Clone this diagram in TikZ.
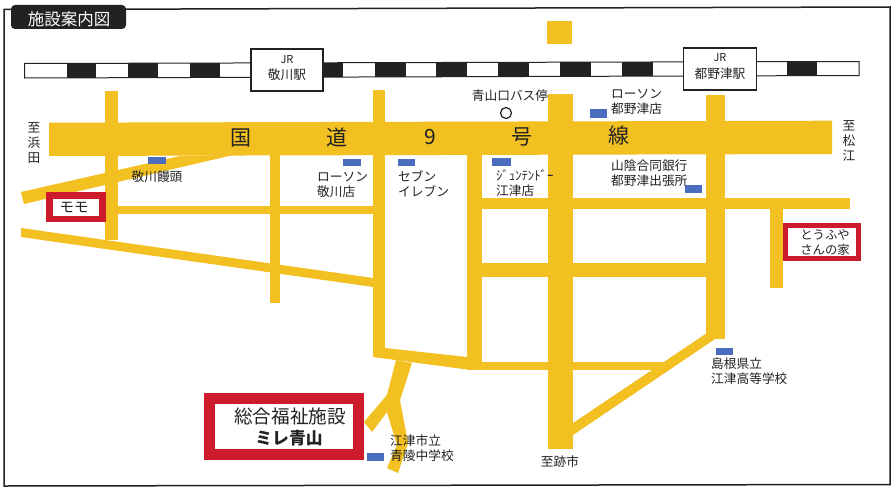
\documentclass[tikz,border=0pt]{standalone}
\usepackage{fontspec}
\setmainfont{Noto Sans CJK JP}
\definecolor{road}{HTML}{F2C020}
\definecolor{redbox}{HTML}{CE1B2B}
\definecolor{shop}{HTML}{4A6DBE}
\definecolor{inkc}{HTML}{222222}
\tikzset{
  roadfill/.style={fill=road,draw=none},
  shopmark/.style={fill=shop,draw=none},
  blk/.style={fill=inkc,draw=none},
  lbl/.style={font=\fontsize{12.7}{15}\selectfont,text=inkc,inner sep=0pt,align=left},
  lblr/.style={lbl,anchor=west},
  lblc/.style={lbl,anchor=center,align=center},
  hw/.style={font=\fontsize{21}{21}\selectfont,text=inkc,inner sep=0pt},
  redframe/.style={draw=redbox,fill=white,line join=miter},
  station/.style={draw=inkc,fill=white,line width=1.2pt},
}
\begin{document}
\begin{tikzpicture}[x=1pt,y=-1pt]
\useasboundingbox (0,0) rectangle (893,487);
\fill[white] (0,0) rectangle (893,487);
% frame
\draw[inkc,line width=1.5pt] (4,9.5) -- (890,7) -- (890,484.5) -- (4,486) -- cycle;
% title
\fill[inkc,rounded corners=4pt] (11,5) rectangle (126,29);
\node[font=\fontsize{16.5}{17}\selectfont,text=white,inner sep=0pt] (title) at (69,19.5) {施設案内図};
% railway
\draw[inkc,line width=1pt,fill=white] (24.5,63.5) -- (859,61.5) -- (859,75.5) -- (24.5,78) -- cycle;
\foreach \a/\b in {67/96,128/158,190/220,323/343,375/406,436/467,498/529,560/591,622/653,787/817}{
  \fill[blk] (\a,{63.5-(\a-24)*0.0024}) rectangle (\b,{77.7-(\b-24)*0.0027});
}
% roads
\fill[roadfill] (105,91) rectangle (118,240);
\fill[roadfill] (373,90) rectangle (385,357);
\fill[roadfill] (706,95) rectangle (725,339);
\fill[roadfill] (548,94) rectangle (573,449);
\fill[roadfill] (547,21) rectangle (572,44);
\fill[roadfill] (49,122.7) -- (832,120.7) -- (832,154) -- (49,156) -- cycle;
\fill[roadfill] (21,192) -- (180,156) -- (233,155) -- (24,204) -- cycle;
\fill[roadfill] (21,228) -- (373,278) -- (373,287) -- (21,237) -- cycle;
\fill[roadfill] (270,155) rectangle (280,303);
\fill[roadfill] (118,205.5) rectangle (373,213.5);
\fill[roadfill] (373,357) -- (385,348) -- (467,357) -- (467,369.5) -- cycle;
\fill[roadfill] (467,154) rectangle (482,370);
\fill[roadfill] (482,198) rectangle (850,208.5);
\fill[roadfill] (482,263) rectangle (706,277);
\fill[roadfill] (467,362) rectangle (663,370);
\fill[roadfill] (573,423) -- (707,333) -- (715,339) -- (573,435) -- cycle;
\fill[roadfill] (770,208) rectangle (783,288);
\fill[roadfill] (396,360) -- (412,363) -- (400,400) -- (408,443) -- (398,473) -- (387,468) -- (397,445) -- (387,412) -- (372,432) -- (364,422) -- (387,395) -- cycle;
% red boxes
\draw[redframe,line width=6.5pt] (49.5,195.5) rectangle (102.5,219);
\node[font=\fontsize{14.5}{15}\selectfont,text=inkc,inner sep=0pt] (momo) at (74,207) {モモ};
\draw[redframe,line width=5pt] (785.5,225.5) rectangle (858.5,258.5);
\node[lblc,font=\fontsize{12.3}{15}\selectfont] (tofu) at (825,242.5) {とうふや\\さんの家};
\draw[redframe,line width=11pt] (209.5,398.5) rectangle (358.5,454.5);
\node[font=\fontsize{18.6}{19}\selectfont,text=inkc,inner sep=0pt] (mile1) at (290,416) {総合福祉施設};
\node[font=\fontsize{16.8}{17}\selectfont\bfseries,text=inkc,inner sep=0pt] (mile2) at (289,438) {ミレ青山};
% stations
\node[station,minimum width=72pt,minimum height=42pt,inner sep=0pt] (st1) at (287,70) {};
\node[font=\fontsize{11}{11}\selectfont,text=inkc,inner sep=0pt] (st1a) at (287,59.5) {JR};
\node[lbl,anchor=center] (st1b) at (287,74.5) {敬川駅};
\node[station,minimum width=73pt,minimum height=42pt,inner sep=0pt] (st2) at (720,69) {};
\node[font=\fontsize{11}{11}\selectfont,text=inkc,inner sep=0pt] (st2a) at (720,58) {JR};
\node[lbl,anchor=center] (st2b) at (720,73.5) {都野津駅};
% highway labels
\node[hw] (h1) at (241,137.5) {国};
\node[hw] (h2) at (337,137) {道};
\node[hw] (h3) at (430,137) {9};
\node[hw] (h4) at (522,136.5) {号};
\node[hw] (h5) at (619,136) {線};
% shop marks
\foreach \a/\b/\c/\d in {148/157/166/164,343/159/361/166,398/159/415/166,492/158/511/166,590/109/607/118,685/185/702/193,716/348/733/355,367/453/384/461}{
  \fill[shopmark] (\a,\b) rectangle (\c,\d);
}
% bus stop
\node[draw=inkc,line width=1.2pt,circle,minimum size=11pt,inner sep=0pt] (bus) at (506,113) {};
\node[lblc] (busl) at (510,96) {青山口バス停};
% labels
\node[lblc] (w1) at (34,128) {至};
\node[lblc] (w2) at (34,143) {浜};
\node[lblc] (w3) at (34,158) {田};
\node[lblc] (e1) at (849,126) {至};
\node[lblc] (e2) at (849,141) {松};
\node[lblc] (e3) at (849,156) {江};
\node[lblc] (l1) at (157,177) {敬川饅頭};
\node[lblr] (l2) at (317,184.5) {ローソン\\敬川店};
\node[lblr] (l3) at (398,184) {セブン\\イレブン};
\node[lblr] (l4) at (611,101.5) {ローソン\\都野津店};
\node[lblr] (l5) at (496,183.5) {ｼﾞｭﾝﾃﾝﾄﾞｰ\\江津店};
\node[lblr] (l6) at (611,173.5) {山陰合同銀行\\都野津出張所};
\node[lblr] (l7) at (390,448) {江津市立\\青陵中学校};
\node[lblc] (l8) at (560,462) {至跡市};
\node[lblr] (l9) at (711,371) {島根県立\\江津高等学校};
\end{tikzpicture}
\end{document}
